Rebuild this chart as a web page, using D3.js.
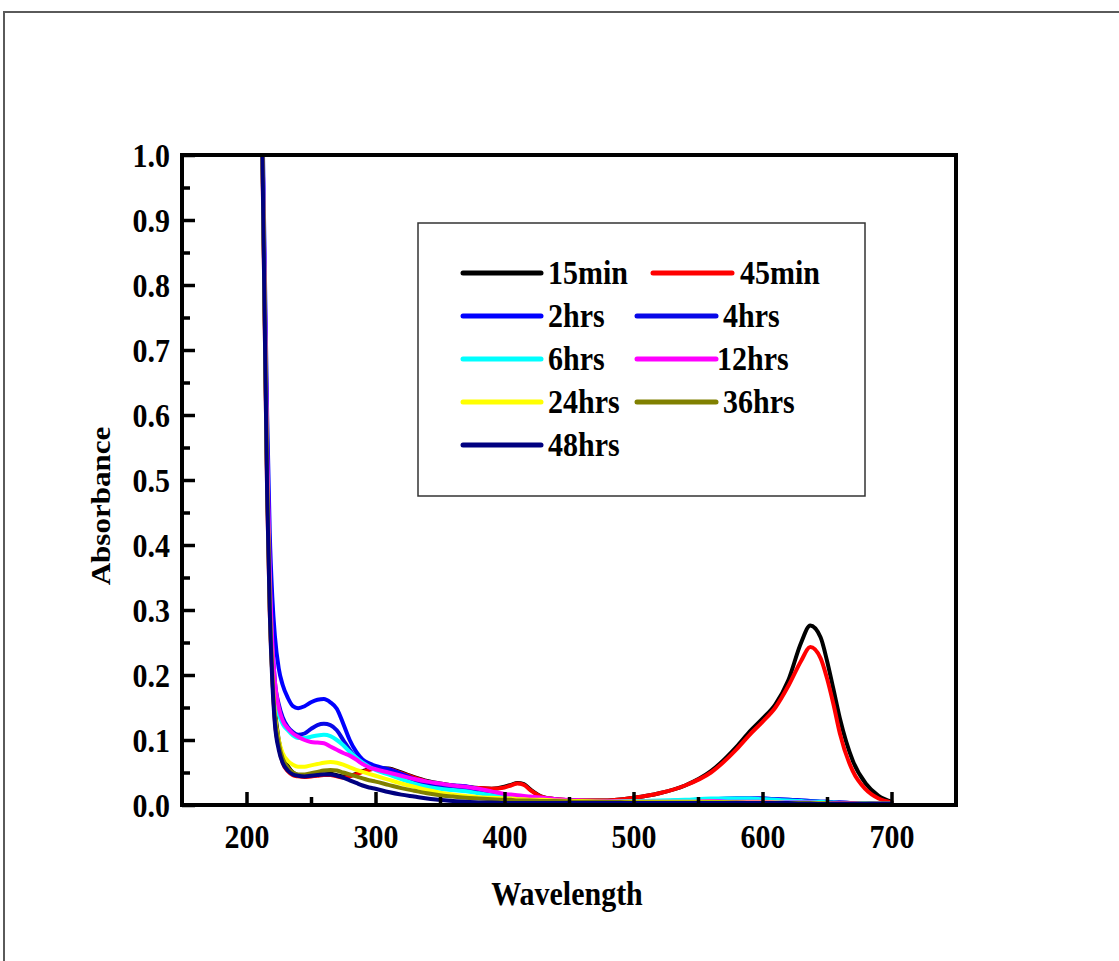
<!DOCTYPE html>
<html>
<head>
<meta charset="utf-8">
<script src="https://cdn.jsdelivr.net/npm/d3@7"></script>
<style>
  html, body { margin: 0; padding: 0; background: #fff; }
  svg { display: block; }
  text { font-family: "Liberation Serif", "Times New Roman", serif; font-weight: bold; fill: #000; }
</style>
</head>
<body>
<svg id="chart" width="1119" height="961"></svg>
<script>
// ---------- data ----------
const wavelengths = [205,212,214,216,218,220,222,225,228,232,236,240,245,250,255,260,265,270,275,280,285,290,295,300,310,320,330,340,350,360,370,380,390,400,405,410,415,420,430,440,460,480,500,520,540,560,580,590,600,610,620,630,637,645,650,655,660,670,680,690,700];

const seriesNames  = ["15min","45min","2hrs","4hrs","6hrs","12hrs","24hrs","36hrs","48hrs"];
const seriesColors = ["#000000","#ff0000","#0000ff","#0808e8","#00ffff","#ff00ff","#ffff00","#808000","#000080"];

const abs15min = [2.0,1.05,0.78,0.50,0.33,0.22,0.15,0.10,0.075,0.060,0.050,0.046,0.045,0.045,0.046,0.047,0.048,0.046,0.044,0.045,0.048,0.052,0.055,0.057,0.056,0.050,0.043,0.037,0.033,0.030,0.028,0.026,0.025,0.028,0.031,0.034,0.032,0.024,0.012,0.009,0.007,0.007,0.011,0.018,0.030,0.052,0.090,0.113,0.133,0.155,0.192,0.250,0.276,0.258,0.222,0.178,0.133,0.068,0.033,0.014,0.005];
const abs45min = [2.0,1.04,0.76,0.48,0.30,0.20,0.13,0.09,0.065,0.052,0.046,0.044,0.043,0.044,0.045,0.046,0.046,0.044,0.042,0.044,0.047,0.051,0.054,0.056,0.055,0.049,0.042,0.036,0.032,0.029,0.027,0.026,0.025,0.027,0.030,0.033,0.031,0.023,0.012,0.009,0.007,0.007,0.011,0.018,0.030,0.050,0.086,0.108,0.128,0.150,0.183,0.222,0.243,0.226,0.195,0.155,0.110,0.052,0.024,0.010,0.004];
const abs2hrs  = [2.0,1.10,0.85,0.60,0.42,0.32,0.26,0.21,0.185,0.165,0.152,0.149,0.152,0.158,0.162,0.163,0.158,0.148,0.125,0.100,0.082,0.070,0.064,0.060,0.055,0.048,0.040,0.034,0.030,0.030,0.029,0.024,0.019,0.015,0.014,0.013,0.012,0.011,0.009,0.008,0.006,0.006,0.006,0.006,0.007,0.009,0.010,0.010,0.010,0.009,0.008,0.007,0.006,0.005,0.005,0.004,0.004,0.003,0.003,0.002,0.002];
const abs4hrs  = [2.0,1.08,0.80,0.55,0.36,0.25,0.19,0.155,0.135,0.120,0.112,0.108,0.110,0.117,0.123,0.125,0.123,0.115,0.100,0.085,0.072,0.064,0.060,0.057,0.052,0.045,0.038,0.032,0.028,0.028,0.026,0.021,0.017,0.014,0.013,0.012,0.011,0.010,0.009,0.008,0.006,0.006,0.006,0.006,0.007,0.009,0.010,0.010,0.010,0.009,0.008,0.007,0.006,0.005,0.005,0.004,0.004,0.003,0.003,0.002,0.002];
const abs6hrs  = [2.0,1.07,0.80,0.52,0.34,0.23,0.17,0.14,0.125,0.115,0.107,0.103,0.103,0.105,0.107,0.108,0.106,0.100,0.092,0.082,0.073,0.065,0.059,0.054,0.047,0.040,0.033,0.028,0.025,0.023,0.021,0.018,0.015,0.013,0.012,0.011,0.010,0.010,0.008,0.007,0.006,0.006,0.006,0.007,0.008,0.010,0.010,0.010,0.009,0.008,0.007,0.006,0.005,0.005,0.004,0.004,0.003,0.003,0.003,0.002,0.002];
const abs12hrs = [2.0,1.07,0.82,0.55,0.36,0.25,0.19,0.15,0.13,0.118,0.110,0.105,0.100,0.097,0.096,0.095,0.090,0.085,0.080,0.076,0.070,0.063,0.058,0.055,0.050,0.045,0.040,0.036,0.033,0.030,0.028,0.025,0.021,0.017,0.016,0.015,0.014,0.013,0.011,0.009,0.007,0.006,0.005,0.005,0.005,0.006,0.005,0.005,0.005,0.004,0.004,0.004,0.004,0.003,0.003,0.003,0.003,0.003,0.002,0.002,0.002];
const abs24hrs = [2.0,1.06,0.78,0.50,0.31,0.20,0.14,0.10,0.080,0.068,0.062,0.059,0.059,0.061,0.063,0.065,0.066,0.065,0.062,0.058,0.054,0.051,0.048,0.045,0.039,0.033,0.028,0.023,0.019,0.016,0.014,0.012,0.011,0.010,0.010,0.009,0.009,0.008,0.008,0.007,0.006,0.005,0.005,0.005,0.005,0.005,0.004,0.004,0.004,0.004,0.003,0.003,0.003,0.003,0.003,0.002,0.002,0.002,0.002,0.002,0.002];
const abs36hrs = [2.0,1.06,0.78,0.50,0.31,0.20,0.135,0.095,0.072,0.058,0.050,0.047,0.047,0.049,0.051,0.053,0.054,0.053,0.050,0.047,0.044,0.041,0.038,0.036,0.031,0.026,0.022,0.018,0.015,0.013,0.011,0.010,0.009,0.008,0.008,0.007,0.007,0.007,0.006,0.006,0.005,0.005,0.004,0.004,0.004,0.004,0.004,0.003,0.003,0.003,0.003,0.003,0.003,0.002,0.002,0.002,0.002,0.002,0.002,0.002,0.002];
const abs48hrs = [2.0,1.05,0.76,0.48,0.30,0.19,0.125,0.085,0.065,0.053,0.047,0.045,0.044,0.045,0.046,0.047,0.047,0.045,0.042,0.038,0.034,0.030,0.027,0.025,0.020,0.016,0.013,0.010,0.008,0.006,0.005,0.004,0.004,0.003,0.003,0.003,0.003,0.003,0.003,0.003,0.003,0.003,0.003,0.003,0.003,0.003,0.003,0.003,0.003,0.003,0.003,0.002,0.002,0.002,0.002,0.002,0.002,0.002,0.002,0.002,0.002];

const seriesValues = [abs15min, abs45min, abs2hrs, abs4hrs, abs6hrs, abs12hrs, abs24hrs, abs36hrs, abs48hrs];

const xTickValues = [200,300,400,500,600,700];
const xMinorValues = [250,350,450,550,650];
const yTickValues = [0,0.1,0.2,0.3,0.4,0.5,0.6,0.7,0.8,0.9,1.0];
const yMinorValues = [0.05,0.15,0.25,0.35,0.45,0.55,0.65,0.75,0.85,0.95];
const xTitle = "Wavelength";
const yTitle = "Absorbance";

// ---------- layout ----------
const svg = d3.select("#chart");
const L = 182, R = 956, T = 155, B = 805;
const SY = 1.15; // vertical stretch of the text in the reference

const x = d3.scaleLinear().domain([150, 750]).range([L, R]);
const y = d3.scaleLinear().domain([0, 1]).range([B, T]);

// outer frame (figure border)
svg.append("path")
  .attr("d", `M4,961 L4,12 L1119,12`)
  .attr("fill", "none").attr("stroke", "#5a5a5a").attr("stroke-width", 2);

// clip
svg.append("defs").append("clipPath").attr("id", "plotclip")
  .append("rect").attr("x", L).attr("y", T).attr("width", R - L).attr("height", B - T);

// curves
const line = d3.line()
  .x((d, i) => x(wavelengths[i]))
  .y(d => y(d))
  .curve(d3.curveMonotoneX);

const curves = svg.append("g").attr("clip-path", "url(#plotclip)");
seriesValues.forEach((vals, k) => {
  curves.append("path")
    .attr("d", line(vals))
    .attr("fill", "none")
    .attr("stroke", seriesColors[k])
    .attr("stroke-width", 4)
    .attr("stroke-linejoin", "round")
    .attr("stroke-linecap", "round");
});

// axes ticks (inward)
const xAxis = svg.append("g").attr("transform", `translate(0,${B})`)
  .call(d3.axisBottom(x).tickValues(xTickValues).tickSizeInner(-13).tickSizeOuter(0).tickPadding(0).tickFormat(d3.format("d")));
const xMinor = svg.append("g").attr("transform", `translate(0,${B})`)
  .call(d3.axisBottom(x).tickValues(xMinorValues).tickSizeInner(-8).tickSizeOuter(0).tickFormat(""));
const yAxis = svg.append("g").attr("transform", `translate(${L},0)`)
  .call(d3.axisLeft(y).tickValues(yTickValues).tickSizeInner(-13).tickSizeOuter(0).tickPadding(0).tickFormat(d3.format(".1f")));
const yMinor = svg.append("g").attr("transform", `translate(${L},0)`)
  .call(d3.axisLeft(y).tickValues(yMinorValues).tickSizeInner(-8).tickSizeOuter(0).tickFormat(""));

[xAxis, xMinor, yAxis, yMinor].forEach(g => {
  g.select(".domain").remove();
  g.selectAll(".tick line").attr("stroke", "#000").attr("stroke-width", 3.5);
});

xAxis.selectAll(".tick text")
  .attr("y", null).attr("dy", null)
  .attr("text-anchor", "middle")
  .attr("font-size", 30)
  .attr("transform", `translate(0,${43}) scale(1,${SY})`);

yAxis.selectAll(".tick text")
  .attr("x", null).attr("dy", null)
  .attr("text-anchor", "end")
  .attr("font-size", 30)
  .attr("transform", `translate(-12,${11}) scale(1,${SY})`);

// plot frame
svg.append("rect")
  .attr("x", L).attr("y", T).attr("width", R - L).attr("height", B - T)
  .attr("fill", "none").attr("stroke", "#000").attr("stroke-width", 4);

// axis titles
svg.append("text")
  .attr("text-anchor", "middle")
  .attr("font-size", 30)
  .attr("transform", `translate(${(L + R) / 2 - 2},${905}) scale(1,${SY})`)
  .text(xTitle);

svg.append("text")
  .attr("text-anchor", "middle")
  .attr("font-size", 27)
  .attr("transform", `translate(${110},${506}) scale(1,${SY}) rotate(-90)`)
  .text(yTitle);

// legend
const lg = svg.append("g");
lg.append("rect")
  .attr("x", 418).attr("y", 223).attr("width", 447).attr("height", 273)
  .attr("fill", "#fff").attr("stroke", "#333").attr("stroke-width", 1.5);

seriesNames.forEach((name, k) => {
  const col = k % 2, row = Math.floor(k / 2);
  const cy = 273 + row * 43;
  let x0, x1, tx;
  if (col === 0) { x0 = 463; x1 = 541; tx = 548; }
  else if (row === 0) { x0 = 653; x1 = 732; tx = 740; }
  else { x0 = 637; x1 = 716; tx = (row === 2 ? 717 : 723); }
  lg.append("line")
    .attr("x1", x0).attr("x2", x1).attr("y1", cy).attr("y2", cy)
    .attr("stroke", seriesColors[k]).attr("stroke-width", 5).attr("stroke-linecap", "round");
  lg.append("text")
    .attr("font-size", 30)
    .attr("transform", `translate(${tx},${cy + 11}) scale(1,${SY})`)
    .text(name);
});
</script>
</body>
</html>
